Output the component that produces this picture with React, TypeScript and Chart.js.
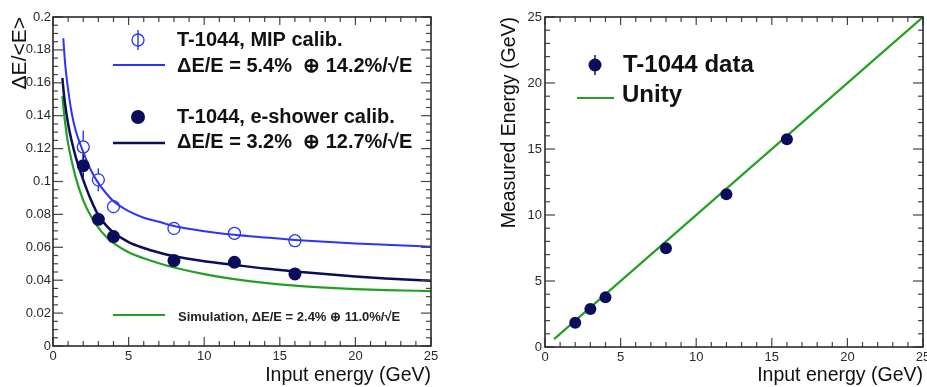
import React, { useEffect, useRef } from "react";
import { Chart, registerables } from "chart.js";

Chart.register(...registerables);

// ---------------- data ----------------
const energies = [2, 3, 4, 8, 12, 16];
const mipResolution = [0.121, 0.101, 0.0847, 0.0715, 0.0685, 0.064];
const mipErrors = [0.01, 0.007, 0.004, 0.002, 0.002, 0.002];
const showerResolution = [0.1096, 0.077, 0.0665, 0.0519, 0.0509, 0.0438];
const showerErrors = [0.007, 0.003, 0.002, 0.0015, 0.0015, 0.0015];

const mipFitEnergy = [0.68, 0.8, 1.0, 1.25, 1.5, 2.0, 2.5, 3.0, 3.5, 4.0, 5, 6, 7, 8, 10, 12, 14, 16, 18, 20, 22, 25];
const mipFitValues = [0.187, 0.172, 0.156, 0.141, 0.131, 0.118, 0.107, 0.099, 0.093, 0.088, 0.082, 0.078, 0.0755, 0.073, 0.0698, 0.0676, 0.066, 0.0645, 0.0633, 0.0623, 0.0615, 0.0604];

const fitEnergy = [0.62, 0.7, 0.8, 1.0, 1.25, 1.5, 2.0, 2.5, 3.0, 3.5, 4.0, 5, 6, 7, 8, 10, 12, 14, 16, 18, 20, 22, 25];
const showerFitValues = [0.163, 0.155, 0.147, 0.135, 0.124, 0.115, 0.101, 0.089, 0.0795, 0.0735, 0.069, 0.0632, 0.0596, 0.0568, 0.0545, 0.0515, 0.0493, 0.0471, 0.0453, 0.0437, 0.0423, 0.0411, 0.0397];
const simFitValues = [0.152, 0.144, 0.136, 0.123, 0.112, 0.1025, 0.0885, 0.079, 0.072, 0.0665, 0.0625, 0.057, 0.0533, 0.0503, 0.0477, 0.0437, 0.0407, 0.0384, 0.0367, 0.0355, 0.0346, 0.034, 0.0334];

const measuredEnergy = [1.84, 2.88, 3.76, 7.48, 11.57, 15.73];
const measuredErrors = [0.15, 0.15, 0.15, 0.2, 0.25, 0.3];
const unityX = [0.6, 25];
const unityY = [0.6, 25];

const xTickLabels = ["0", "5", "10", "15", "20", "25"];
const leftYTickLabels = ["0", "0.02", "0.04", "0.06", "0.08", "0.1", "0.12", "0.14", "0.16", "0.18", "0.2"];
const rightYTickLabels = ["0", "5", "10", "15", "20", "25"];

const xTitle = "Input energy (GeV)";
const leftYTitle = "ΔE/<E>";
const rightYTitle = "Measured Energy (GeV)";

const leftLegendLabels = [
  "T-1044, MIP calib.",
  "ΔE/E = 5.4%  ⊕ 14.2%/√E",
  "T-1044, e-shower calib.",
  "ΔE/E = 3.2%  ⊕ 12.7%/√E",
  "Simulation, ΔE/E = 2.4% ⊕ 11.0%/√E",
];
const rightLegendLabels = ["T-1044 data", "Unity"];

// ---------------- styles ----------------
const FONT = "'Liberation Sans', Arial, Helvetica, sans-serif";
const BLUE = "#2b35f5";
const NAVY = "#0c0c5c";
const GREEN = "#23a023";
const TEXT = "#111111";
const TICKTEXT = "#2a2a2a";

const pts = (xs: number[], ys: number[]) => xs.map((x, i) => ({ x, y: ys[i] }));

// error bars drawn only outside the marker (ROOT style)
const errorBarPlugin = {
  id: "errorBars",
  beforeDatasetsDraw(chart: any) {
    const ctx = chart.ctx;
    const xs = chart.scales.x;
    const ys = chart.scales.y;
    chart.data.datasets.forEach((ds: any) => {
      const errs = ds.errorValues;
      if (!errs) return;
      const r = ds.pointRadius || 0;
      ctx.save();
      ctx.strokeStyle = ds.errorColor || ds.borderColor;
      ctx.lineWidth = 1.4;
      ds.data.forEach((p: any, i: number) => {
        const px = xs.getPixelForValue(p.x);
        const py = ys.getPixelForValue(p.y);
        const top = ys.getPixelForValue(p.y + errs[i]);
        const bot = ys.getPixelForValue(p.y - errs[i]);
        if (py - top > r) {
          ctx.beginPath();
          ctx.moveTo(px, py - r);
          ctx.lineTo(px, top);
          ctx.stroke();
        }
        if (bot - py > r) {
          ctx.beginPath();
          ctx.moveTo(px, py + r);
          ctx.lineTo(px, bot);
          ctx.stroke();
        }
      });
      ctx.restore();
    });
  },
};

const framePlugin = {
  id: "rootFrame",
  afterDatasetsDraw(chart: any, _args: any, opts: any) {
    const ctx = chart.ctx;
    const a = chart.chartArea;
    const xs = chart.scales.x;
    const ys = chart.scales.y;
    ctx.save();
    ctx.strokeStyle = opts.tickColor;
    ctx.lineWidth = 1.2;
    const seg = (x1: number, y1: number, x2: number, y2: number) => {
      ctx.beginPath();
      ctx.moveTo(x1, y1);
      ctx.lineTo(x2, y2);
      ctx.stroke();
    };
    const nx = Math.round((xs.max - xs.min) / opts.xMinor);
    for (let k = 0; k <= nx; k++) {
      const v = xs.min + k * opts.xMinor;
      const r = v / opts.xMajor;
      const major = Math.abs(r - Math.round(r)) < 1e-6;
      const len = major ? opts.xMajorLen : opts.minorLen;
      const px = xs.getPixelForValue(v);
      seg(px, a.bottom, px, a.bottom - len);
      seg(px, a.top, px, a.top + (major ? opts.topMajorLen : opts.topMinorLen));
    }
    const ny = Math.round((ys.max - ys.min) / opts.yMinor);
    for (let k = 0; k <= ny; k++) {
      const v = ys.min + k * opts.yMinor;
      const r = v / opts.yMajor;
      const major = Math.abs(r - Math.round(r)) < 1e-6;
      const len = major ? opts.yMajorLen : opts.minorLen;
      const py = ys.getPixelForValue(v);
      seg(a.left, py, a.left + len, py);
      seg(a.right, py, a.right - len, py);
    }
    ctx.strokeStyle = opts.frameColor;
    ctx.lineWidth = opts.frameWidth;
    ctx.strokeRect(a.left, a.top, a.right - a.left, a.bottom - a.top);
    ctx.restore();
  },
};

const legendPlugin = {
  id: "rootLegend",
  afterDraw(chart: any, _args: any, opts: any) {
    const ctx = chart.ctx;
    ctx.save();
    (opts.items || []).forEach((it: any) => {
      if (it.type === "text") {
        ctx.font = it.font;
        ctx.fillStyle = it.color || TEXT;
        ctx.textBaseline = "alphabetic";
        ctx.textAlign = "left";
        ctx.fillText(it.text, it.x, it.y);
      } else if (it.type === "line") {
        ctx.strokeStyle = it.color;
        ctx.lineWidth = it.width;
        ctx.beginPath();
        ctx.moveTo(it.x1, it.y);
        ctx.lineTo(it.x2, it.y);
        ctx.stroke();
      } else if (it.type === "marker") {
        if (it.bar) {
          ctx.strokeStyle = it.color;
          ctx.lineWidth = 1.4;
          ctx.beginPath();
          ctx.moveTo(it.x, it.y - it.bar);
          ctx.lineTo(it.x, it.y + it.bar);
          ctx.stroke();
        }
        ctx.beginPath();
        ctx.arc(it.x, it.y, it.r, 0, Math.PI * 2);
        if (it.filled) {
          ctx.fillStyle = it.color;
          ctx.fill();
        } else {
          ctx.strokeStyle = it.color;
          ctx.lineWidth = 1.3;
          ctx.stroke();
        }
      }
    });
    ctx.restore();
  },
};

function axisX(height: number) {
  return {
    type: "linear",
    min: 0,
    max: 25,
    ticks: {
      stepSize: 5,
      autoSkip: false,
      maxRotation: 0,
      padding: 3,
      color: TICKTEXT,
      font: { family: FONT, size: 13 },
      callback: (_v: any, i: number) => xTickLabels[i],
    },
    grid: { display: false, drawTicks: false },
    border: { display: false },
    title: {
      display: true,
      text: xTitle,
      align: "end",
      color: TEXT,
      font: { family: FONT, size: 19.5 },
      padding: 0,
    },
    afterFit: (s: any) => {
      s.height = height;
    },
  };
}

export default function App() {
  const leftRef = useRef<HTMLCanvasElement | null>(null);
  const rightRef = useRef<HTMLCanvasElement | null>(null);

  useEffect(() => {
    const left = new Chart(leftRef.current as HTMLCanvasElement, {
      type: "scatter",
      data: {
        datasets: [
          {
            data: pts(energies, mipResolution),
            errorValues: mipErrors,
            borderColor: BLUE,
            backgroundColor: "rgba(0,0,0,0)",
            pointRadius: 6,
            pointBorderWidth: 1.3,
            order: 0,
          },
          {
            data: pts(energies, showerResolution),
            errorValues: showerErrors,
            borderColor: NAVY,
            backgroundColor: NAVY,
            pointRadius: 6.5,
            pointBorderWidth: 0,
            order: 0,
          },
          {
            data: pts(mipFitEnergy, mipFitValues),
            showLine: true,
            borderColor: BLUE,
            borderWidth: 2,
            pointRadius: 0,
            cubicInterpolationMode: "monotone",
            order: 1,
          },
          {
            data: pts(fitEnergy, showerFitValues),
            showLine: true,
            borderColor: NAVY,
            borderWidth: 2.5,
            pointRadius: 0,
            cubicInterpolationMode: "monotone",
            order: 1,
          },
          {
            data: pts(fitEnergy, simFitValues),
            showLine: true,
            borderColor: GREEN,
            borderWidth: 2.2,
            pointRadius: 0,
            cubicInterpolationMode: "monotone",
            order: 2,
          },
        ] as any,
      },
      options: {
        animation: false,
        responsive: false,
        devicePixelRatio: 1,
        layout: { padding: { left: 0, right: 29, top: 17, bottom: 0 } },
        scales: {
          x: axisX(41) as any,
          y: {
            type: "linear",
            min: 0,
            max: 0.2,
            ticks: {
              stepSize: 0.02,
              autoSkip: false,
              padding: 2,
              color: TICKTEXT,
              font: { family: FONT, size: 13 },
              callback: (_v: any, i: number) => leftYTickLabels[i],
            },
            grid: { display: false, drawTicks: false },
            border: { display: false },
            title: {
              display: true,
              text: leftYTitle,
              align: "end",
              color: TEXT,
              font: { family: FONT, size: 21 },
              padding: { top: 8, bottom: 0 },
            },
            afterFit: (s: any) => {
              s.width = 53;
            },
          } as any,
        },
        plugins: {
          legend: { display: false },
          tooltip: { enabled: false },
          rootFrame: {
            xMinor: 1,
            xMajor: 5,
            yMinor: 0.005,
            yMajor: 0.02,
            minorLen: 5,
            xMajorLen: 9,
            yMajorLen: 10,
            topMinorLen: 5,
            topMajorLen: 8,
            tickColor: "#444",
            frameColor: "#2a2a2a",
            frameWidth: 1.6,
          },
          rootLegend: {
            items: [
              { type: "marker", x: 138, y: 40, r: 6, color: BLUE, filled: false, bar: 10 },
              { type: "text", x: 177, y: 46, text: leftLegendLabels[0], font: `bold 20px ${FONT}` },
              { type: "line", x1: 113, x2: 165, y: 65, color: BLUE, width: 2 },
              { type: "text", x: 177, y: 72, text: leftLegendLabels[1], font: `bold 20px ${FONT}` },
              { type: "marker", x: 138, y: 117, r: 7, color: NAVY, filled: true },
              { type: "text", x: 177, y: 123, text: leftLegendLabels[2], font: `bold 20px ${FONT}` },
              { type: "line", x1: 113, x2: 165, y: 143, color: NAVY, width: 2.5 },
              { type: "text", x: 177, y: 148, text: leftLegendLabels[3], font: `bold 20px ${FONT}` },
              { type: "line", x1: 113, x2: 165, y: 315, color: GREEN, width: 2 },
              { type: "text", x: 178, y: 321, text: leftLegendLabels[4], font: `bold 13px ${FONT}`, color: "#222" },
            ],
          },
        } as any,
      },
      plugins: [errorBarPlugin, framePlugin, legendPlugin],
    });

    const right = new Chart(rightRef.current as HTMLCanvasElement, {
      type: "scatter",
      data: {
        datasets: [
          {
            data: pts(energies, measuredEnergy),
            errorValues: measuredErrors,
            borderColor: NAVY,
            backgroundColor: NAVY,
            pointRadius: 6,
            pointBorderWidth: 0,
            order: 0,
          },
          {
            data: pts(unityX, unityY),
            showLine: true,
            borderColor: GREEN,
            borderWidth: 2.2,
            pointRadius: 0,
            order: 1,
          },
        ] as any,
      },
      options: {
        animation: false,
        responsive: false,
        devicePixelRatio: 1,
        layout: { padding: { left: 0, right: 17, top: 17, bottom: 0 } },
        scales: {
          x: axisX(40) as any,
          y: {
            type: "linear",
            min: 0,
            max: 25,
            ticks: {
              stepSize: 5,
              autoSkip: false,
              padding: 3,
              color: TICKTEXT,
              font: { family: FONT, size: 13 },
              callback: (_v: any, i: number) => rightYTickLabels[i],
            },
            grid: { display: false, drawTicks: false },
            border: { display: false },
            title: {
              display: true,
              text: rightYTitle,
              align: "end",
              color: TEXT,
              font: { family: FONT, size: 19.5 },
              padding: { top: 38, bottom: 0 },
            },
            afterFit: (s: any) => {
              s.width = 85;
            },
          } as any,
        },
        plugins: {
          legend: { display: false },
          tooltip: { enabled: false },
          rootFrame: {
            xMinor: 1,
            xMajor: 5,
            yMinor: 1,
            yMajor: 5,
            minorLen: 5,
            xMajorLen: 9,
            yMajorLen: 10,
            topMinorLen: 5,
            topMajorLen: 8,
            tickColor: "#444",
            frameColor: "#2a2a2a",
            frameWidth: 1.6,
          },
          rootLegend: {
            items: [
              { type: "marker", x: 135, y: 65, r: 6.5, color: NAVY, filled: true, bar: 10 },
              { type: "text", x: 163, y: 72, text: rightLegendLabels[0], font: `bold 24px ${FONT}` },
              { type: "line", x1: 117, x2: 154, y: 98, color: GREEN, width: 2 },
              { type: "text", x: 162, y: 102, text: rightLegendLabels[1], font: `bold 24px ${FONT}` },
            ],
          },
        } as any,
      },
      plugins: [errorBarPlugin, framePlugin, legendPlugin],
    });

    return () => {
      left.destroy();
      right.destroy();
    };
  }, []);

  return (
    <div
      style={{
        position: "fixed",
        left: 0,
        top: 0,
        width: 927,
        height: 387,
        overflow: "hidden",
        background: "#ffffff",
      }}
    >
      <canvas
        ref={leftRef}
        width={460}
        height={387}
        style={{ position: "absolute", left: 0, top: 0, width: 460, height: 387 }}
      />
      <canvas
        ref={rightRef}
        width={480}
        height={387}
        style={{ position: "absolute", left: 460, top: 0, width: 480, height: 387 }}
      />
    </div>
  );
}
